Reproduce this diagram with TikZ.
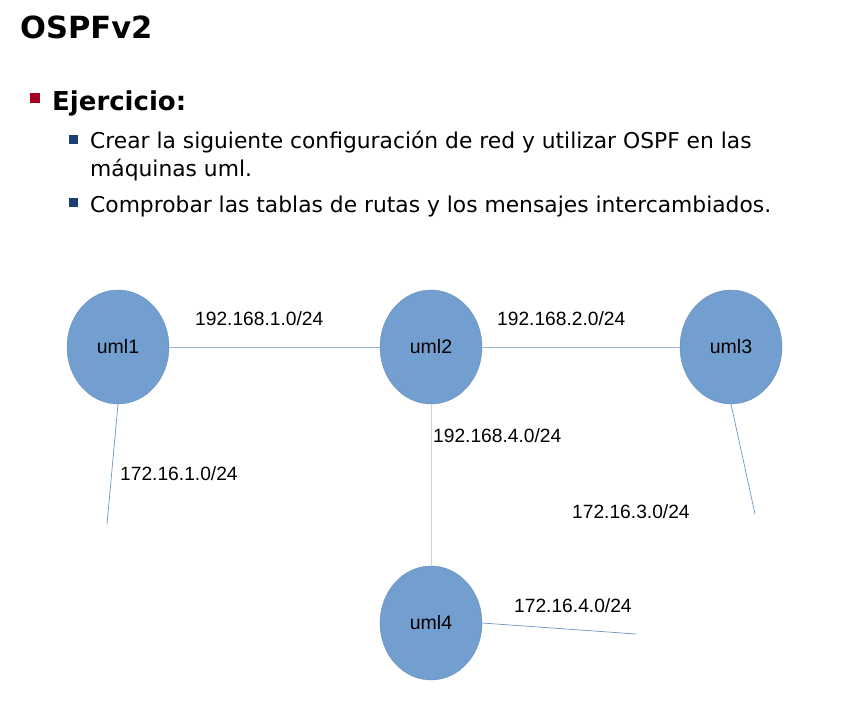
\documentclass[tikz,border=0pt]{standalone}
\usepackage{fontspec}
\setmainfont{DejaVu Sans}
\newfontfamily\labelfont{Liberation Sans}
\definecolor{umlfill}{HTML}{729FCF}
\definecolor{umlline}{HTML}{6F93C4}
\definecolor{umlpale}{HTML}{C6D3E6}
\definecolor{bulletred}{HTML}{A50021}
\definecolor{bulletblue}{HTML}{1B3E74}
\tikzset{
	uml/.style={ellipse, fill=umlfill, draw=umlfill!90!black, line width=0.4pt, minimum width=102pt, minimum height=114pt, inner sep=0pt, font=\labelfont\fontsize{19.5}{22}\selectfont},
	net/.style={anchor=west, inner sep=0pt, font=\labelfont\fontsize{19.2}{22}\selectfont},
	link/.style={draw=umlline, line width=0.9pt},
	bodytext/.style={anchor=base west, inner sep=0pt, font=\fontsize{21.8}{28}\selectfont}
}
\usetikzlibrary{shapes.geometric}

\begin{document}
\begin{tikzpicture}[x=1pt, y=-1pt]
					\useasboundingbox (0,0) rectangle (861,717);
					
					\node[anchor=base west, inner sep=0pt, font=\bfseries\fontsize{30.5}{34}\selectfont] (title) at (20,38) {OSPFv2};
					
					\fill[bulletred] (30,93) rectangle (40,103);
					\node[anchor=base west, inner sep=0pt, font=\bfseries\fontsize{26}{30}\selectfont] (task) at (52,110) {Ejercicio:};
					
					\fill[bulletblue] (69,135) rectangle (78,144);
					\node[bodytext] (stepone) at (90,148) {Crear la siguiente configuración de red y utilizar OSPF en las};
					\node[bodytext] (steponeb) at (90,176) {máquinas uml.};
					\fill[bulletblue] (69,198) rectangle (78,207);
					\node[bodytext] (steptwo) at (90,212) {Comprobar las tablas de rutas y los mensajes intercambiados.};
					
					\coordinate (end1) at (107,524);
					\coordinate (end3) at (755,514);
					\coordinate (end4) at (636,634);
					
					\node[uml] (uml1) at (118,347) {uml1};
					\node[uml] (uml2) at (431,347) {uml2};
					\node[uml] (uml3) at (731,347) {uml3};
					\node[uml] (uml4) at (431,623) {uml4};
					
					\draw[link, draw=umlline!70] (uml1) -- (uml2);
					\draw[link, draw=umlline!70] (uml2) -- (uml3);
					\draw[link, draw=umlpale] (uml2) -- (uml4);
					\draw[link, line width=0.7pt] (uml1.south) -- (end1);
					\draw[link, line width=0.7pt] (uml3.south) -- (end3);
					\draw[link, line width=0.7pt] (uml4.east) -- (end4);
					
					\node[net] at (195,319) {192.168.1.0/24};
					\node[net] at (497,319) {192.168.2.0/24};
					\node[net] at (433,436) {192.168.4.0/24};
					\node[net] at (120,474) {172.16.1.0/24};
					\node[net] at (572,512) {172.16.3.0/24};
					\node[net] at (514,606) {172.16.4.0/24};
				\end{tikzpicture}
\end{document}
